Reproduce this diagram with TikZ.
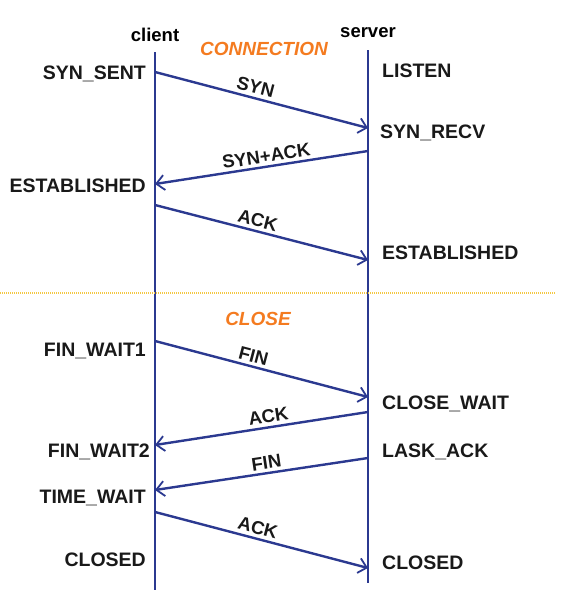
\documentclass[tikz,border=0pt]{standalone}
\usepackage{fontspec}
\setmainfont{Liberation Sans}
\usetikzlibrary{arrows.meta}
\definecolor{navy}{HTML}{2B3990}
\definecolor{orng}{HTML}{F47B20}
\definecolor{ylw}{HTML}{F5C842}
\begin{document}
\begin{tikzpicture}[x=1pt,y=-1pt,
  state/.style={font=\fontsize{19.5}{19.5}\selectfont\bfseries, inner sep=0pt, text=black!90},
  who/.style={font=\fontsize{18.5}{18.5}\selectfont\bfseries, inner sep=0pt},
  phase/.style={font=\fontsize{19}{19}\selectfont\bfseries\itshape, text=orng, inner sep=0pt},
  lbl/.style={font=\fontsize{18.5}{18.5}\selectfont\bfseries, sloped, above, inner sep=3pt, text=black!90},
  life/.style={draw=navy, line width=2.6pt},
  msg/.style={draw=navy, line width=2.4pt, -{Straight Barb[length=8pt,width=15pt,line width=1.8pt]}}]
\useasboundingbox (0,0) rectangle (578,616);
% lifelines
\coordinate (ctop) at (155,52);
\coordinate (cbot) at (155,590);
\coordinate (stop) at (368,50);
\coordinate (sbot) at (368,583);
\draw[life] (ctop) -- (cbot);
\draw[life] (stop) -- (sbot);
\node[who] (client) at (155,35) {client};
\node[who] (server) at (368,33) {server};
\node[phase] (conn) at (264,49) {CONNECTION};
% separator
\coordinate (sepl) at (0,293);
\coordinate (sepr) at (555,293);
\draw[ylw, line width=2.2pt, dash pattern=on 1.2pt off 0.8pt] (sepl) -- (sepr);
\node[phase] (close) at (258,319) {CLOSE};
% states
\node[state, anchor=east] (synsent) at (146,74) {SYN\_SENT};
\node[state, anchor=west] (listen) at (382,71) {LISTEN};
\node[state, anchor=west] (synrecv) at (380,133) {SYN\_RECV};
\node[state, anchor=east] (estc) at (146,186) {ESTABLISHED};
\node[state, anchor=west] (ests) at (382,253) {ESTABLISHED};
\node[state, anchor=east] (fw1) at (146,351) {FIN\_WAIT1};
\node[state, anchor=west] (cw) at (382,404) {CLOSE\_WAIT};
\node[state, anchor=east] (fw2) at (150,452) {FIN\_WAIT2};
\node[state, anchor=west] (la) at (382,452) {LASK\_ACK};
\node[state, anchor=east] (tw) at (146,498) {TIME\_WAIT};
\node[state, anchor=east] (cc) at (146,560) {CLOSED};
\node[state, anchor=west] (sc) at (382,563) {CLOSED};
% message endpoints
\coordinate (a1) at (155,72);  \coordinate (b1) at (368,128);
\coordinate (a2) at (368,151); \coordinate (b2) at (155,184);
\coordinate (a3) at (155,205); \coordinate (b3) at (368,260);
\coordinate (a4) at (155,341); \coordinate (b4) at (368,397);
\coordinate (a5) at (368,412); \coordinate (b5) at (155,445);
\coordinate (a6) at (368,458); \coordinate (b6) at (155,490);
\coordinate (a7) at (155,512); \coordinate (b7) at (368,568);
\draw[msg] (a1) -- node[lbl, pos=0.46] (l1) {SYN} (b1);
\draw[msg] (a2) -- node[lbl, pos=0.47] (l2) {SYN+ACK} (b2);
\draw[msg] (a3) -- node[lbl, pos=0.47] (l3) {ACK} (b3);
\draw[msg] (a4) -- node[lbl, pos=0.45] (l4) {FIN} (b4);
\draw[msg] (a5) -- node[lbl, pos=0.46] (l5) {ACK} (b5);
\draw[msg] (a6) -- node[lbl, pos=0.47] (l6) {FIN} (b6);
\draw[msg] (a7) -- node[lbl, pos=0.47] (l7) {ACK} (b7);
\end{tikzpicture}
\end{document}
